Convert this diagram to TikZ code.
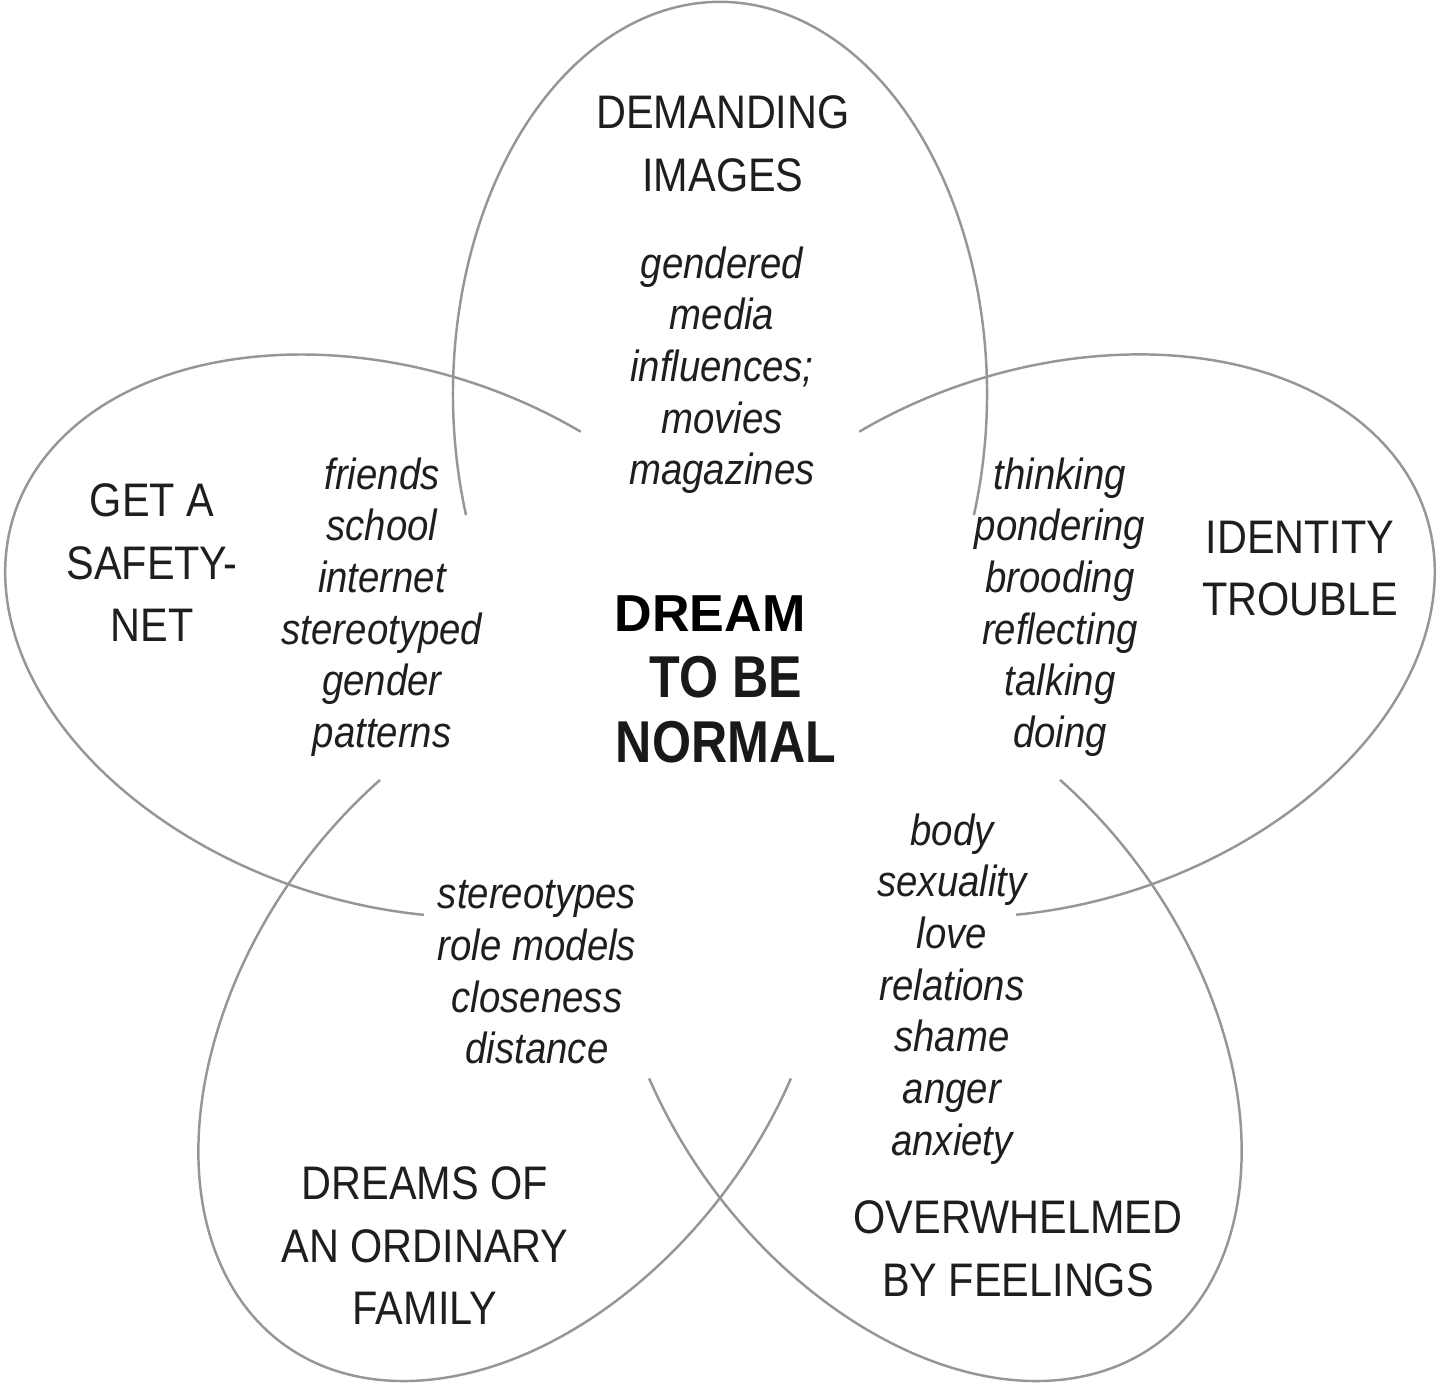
\documentclass[tikz,border=0pt]{standalone}
\usepackage{fontspec}
\setmainfont{Liberation Sans}
\newfontfamily\narrowfont[FakeStretch=0.88]{Liberation Sans}
\newfontfamily\centrefont[FakeStretch=0.85]{Liberation Sans}
\usepackage{tikz}
\definecolor{petalgray}{RGB}{150,150,150}
\definecolor{inkgray}{RGB}{30,30,30}

\begin{document}
\begin{tikzpicture}[
    petal/.style={draw=petalgray, line width=0.7pt},
    heading/.style={font=\narrowfont\fontsize{13.4}{17.8}\selectfont, text=inkgray,
                    align=center, inner sep=0pt, anchor=north},
    detail/.style={font=\narrowfont\itshape\fontsize{12.4}{14.7}\selectfont, text=inkgray,
                   align=center, inner sep=0pt, anchor=north}
]
    \useasboundingbox (0,0) rectangle (14.41,13.83);
    \coordinate (centre) at (7.20,6.39);

    % five petals, left open towards the middle
    \foreach \dir in {90,18,-54,-126,162}
        \draw[petal, shift={(centre)}, rotate=\dir] (2.289,-2.539)
            arc[start angle=-108, end angle=108, x radius=3.92, y radius=2.67];

    % petal titles
    \node[heading] (images) at (7.23,12.88) {DEMANDING\\IMAGES};
    \node[heading] (safety) at (1.52,9.00) {GET A\\SAFETY-\\NET};
    \node[heading] (identity) at (13.00,8.63) {IDENTITY\\TROUBLE};
    \node[heading] (ordinary) at (4.25,2.17) {DREAMS OF\\AN ORDINARY\\FAMILY};
    \node[heading] (overwhelmed) at (10.18,1.83) {OVERWHELMED\\BY FEELINGS};

    % words in the overlaps
    \node[detail] (media) at (7.22,11.37) {gendered\\media\\influences;\\movies\\magazines};
    \node[detail] (peers) at (3.82,9.26) {friends\\school\\internet\\stereotyped\\gender\\patterns};
    \node[detail] (pondering) at (10.60,9.26) {thinking\\pondering\\brooding\\reflecting\\talking\\doing};
    \node[detail] (feelings) at (9.52,5.70) {body\\sexuality\\love\\relations\\shame\\anger\\anxiety};
    \node[detail] (roles) at (5.37,5.03) {stereotypes\\role models\\closeness\\distance};

    % centre
    \node[font=\bfseries\fontsize{14.8}{17}\selectfont, inner sep=0pt, anchor=north] (dream) at (7.10,7.88) {DREAM};
    \node[font=\centrefont\bfseries\fontsize{16.8}{18.5}\selectfont, text=black!90, align=center,
          inner sep=0pt, anchor=north] (normal) at (7.26,7.27) {TO BE\\NORMAL};
\end{tikzpicture}
\end{document}
